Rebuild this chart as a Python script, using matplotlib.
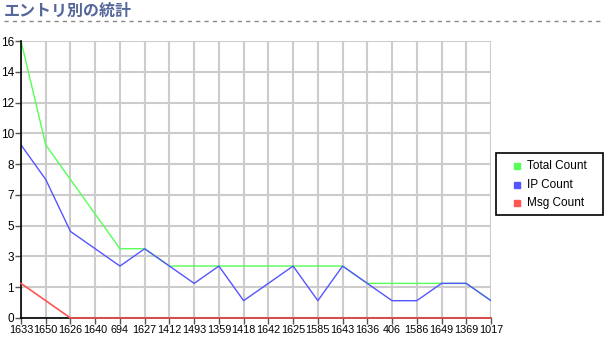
import numpy as np
import matplotlib
matplotlib.use("Agg")
import matplotlib.pyplot as plt
from matplotlib.lines import Line2D
from matplotlib.patches import Rectangle

# data
entry_ids = ["1633", "1650", "1626", "1640", "694", "1627", "1412", "1493", "1359", "1418",
             "1642", "1625", "1585", "1643", "1636", "406", "1586", "1649", "1369", "1017"]
total_count = [16, 10, 8, 6, 4, 4, 3, 3, 3, 3, 3, 3, 3, 3, 2, 2, 2, 2, 2, 1]
ip_count = [10, 8, 5, 4, 3, 4, 3, 2, 3, 1, 2, 3, 1, 3, 2, 1, 1, 2, 2, 1]
msg_count = [2, 1, 0, 0, 0, 0, 0, 0, 0, 0, 0, 0, 0, 0, 0, 0, 0, 0, 0, 0]
series_names = ["Total Count", "IP Count", "Msg Count"]
series_colors = ["#55ff55", "#5555ff", "#ff5555"]

W, H = 606, 342
fig = plt.figure(figsize=(W / 100, H / 100), dpi=100)
fig.patch.set_facecolor("white")

def fx(px):
    return px / W

def fy(py):
    return 1 - py / H

# title and dashed rule
fig.text(fx(4), fy(11), "エントリ別の統計", family=["Noto Sans CJK JP", "DejaVu Sans"],
         fontsize=11.5, fontweight="bold", color="#55669a", va="center", ha="left")
fig.add_artist(Line2D([fx(4), fx(602)], [fy(21), fy(21)], color="#888888",
                      linewidth=1, linestyle=(0, (3, 3))))

# plot area
left, right, top, bottom = 21, 491, 41, 318
ax = fig.add_axes([fx(left), fy(bottom), fx(right - left), (bottom - top) / H])

x = np.arange(len(entry_ids))
ax.plot(x, total_count, color=series_colors[0], linewidth=1, zorder=3)
ax.plot(x, ip_count, color=series_colors[1], linewidth=1, zorder=3)
ax.plot(x, msg_count, color=series_colors[2], linewidth=1.2, zorder=5, clip_on=False)

ax.set_xlim(0, len(entry_ids) - 1)
ax.set_ylim(0, 16)
yt = np.linspace(0, 16, 10)
ax.set_yticks(yt)
ax.set_yticklabels([str(int(v)) for v in yt])
ax.set_xticks(x)
ax.set_xticklabels(entry_ids)

ax.grid(True, color="#cccccc", linewidth=1.5, zorder=0)
ax.set_axisbelow(True)
for s in ["top", "right"]:
    ax.spines[s].set_visible(False)
for s in ["left", "bottom"]:
    ax.spines[s].set_color("black")
    ax.spines[s].set_linewidth(1.2)
    ax.spines[s].set_zorder(4)

ax.tick_params(axis="both", direction="out", length=4, width=1, color="#555555",
               labelsize=7.8, pad=1)
ax.tick_params(axis="y", labelsize=8.5)
for lab in ax.get_xticklabels() + ax.get_yticklabels():
    lab.set_family("Liberation Sans")

# legend box drawn by hand
fig.add_artist(Rectangle((fx(496), fy(215)), fx(107), (215 - 153) / H,
                         transform=fig.transFigure, facecolor="white",
                         edgecolor="black", linewidth=1.2))
for i, (name, col) in enumerate(zip(series_names, series_colors)):
    yy = 166 + i * 18.5
    fig.add_artist(Line2D([fx(517)], [fy(yy)], marker="s", markersize=4.5,
                          markerfacecolor=col, markeredgecolor=col, linestyle="none"))
    fig.text(fx(527), fy(yy), name, family="Liberation Sans", fontsize=8.5,
             va="center", ha="left")

fig.savefig("out.png", dpi=100)
